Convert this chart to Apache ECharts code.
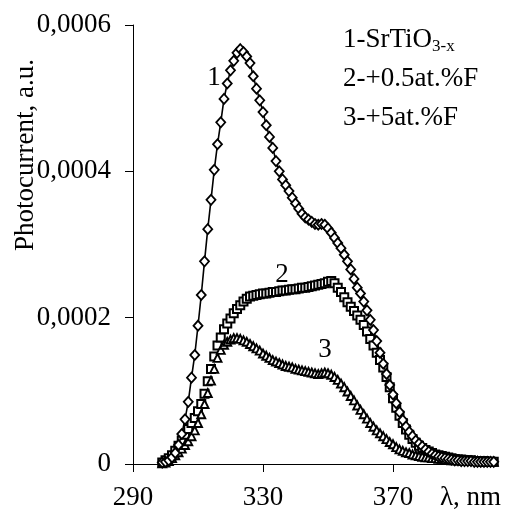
<!DOCTYPE html>
<html>
<head>
<meta charset="utf-8">
<script src="https://cdn.jsdelivr.net/npm/echarts@6/dist/echarts.min.js"></script>
<style>
html,body{margin:0;padding:0;background:#fff;}
#chart{width:513px;height:520px;}
</style>
</head>
<body>
<div id="chart"></div>
<script>
// wavelength, nm
const wavelength = [299,300,301,302,303,304,305,306,307,308,309,310,311,312,313,314,315,316,317,318,319,320,321,322,323,324,325,326,327,328,329,330,331,332,333,334,335,336,337,338,339,340,341,342,343,344,345,346,347,348,349,350,351,352,353,354,355,356,357,358,359,360,361,362,363,364,365,366,367,368,369,370,371,372,373,374,375,376,377,378,379,380,381,382,383,384,385,386,387,388,389,390,391,392,393,394,395,396,397,398,399,400,401];

// 1 - SrTiO3-x
const curve1 = [0.000002,0.000003,0.000005,0.000009,0.000015,0.000026,0.000041,0.000061,0.000085,0.000118,0.000149,0.000189,0.000231,0.000277,0.000321,0.000361,0.000402,0.000437,0.000467,0.000499,0.000520,0.000538,0.000551,0.000562,0.000567,0.000563,0.000557,0.000548,0.000530,0.000513,0.000497,0.000481,0.000463,0.000447,0.000432,0.000414,0.000400,0.000389,0.000381,0.000373,0.000364,0.000356,0.000349,0.000342,0.000337,0.000334,0.000331,0.000328,0.000327,0.000328,0.000327,0.000322,0.000316,0.000309,0.000302,0.000295,0.000286,0.000277,0.000266,0.000253,0.000241,0.000233,0.000222,0.000210,0.000197,0.000183,0.000168,0.000152,0.000137,0.000123,0.000108,0.000095,0.000083,0.000071,0.000060,0.000051,0.000044,0.000038,0.000032,0.000028,0.000024,0.000020,0.000017,0.000014,0.000012,0.000010,0.000009,0.000008,0.000007,0.000006,0.000005,0.000005,0.000004,0.000004,0.000004,0.000004,0.000003,0.000003,0.000003,0.000003,0.000003,0.000003,0.000003];

// 2 - +0.5 at.% F
const curve2 = [0.000002,0.000005,0.000008,0.000012,0.000018,0.000025,0.000032,0.000040,0.000048,0.000056,0.000063,0.000072,0.000082,0.000096,0.000113,0.000130,0.000147,0.000162,0.000173,0.000184,0.000192,0.000199,0.000206,0.000212,0.000217,0.000222,0.000226,0.000229,0.000230,0.000231,0.000232,0.000233,0.000233,0.000234,0.000235,0.000235,0.000236,0.000237,0.000237,0.000238,0.000239,0.000239,0.000240,0.000241,0.000241,0.000242,0.000243,0.000244,0.000245,0.000246,0.000247,0.000249,0.000250,0.000247,0.000241,0.000235,0.000228,0.000221,0.000215,0.000209,0.000203,0.000197,0.000190,0.000181,0.000171,0.000162,0.000152,0.000142,0.000132,0.000119,0.000105,0.000090,0.000077,0.000066,0.000056,0.000047,0.000040,0.000034,0.000029,0.000025,0.000022,0.000019,0.000017,0.000015,0.000013,0.000012,0.000011,0.000010,0.000009,0.000008,0.000007,0.000006,0.000006,0.000005,0.000005,0.000005,0.000004,0.000004,0.000004,0.000004,0.000003,0.000003,0.000003];

// 3 - +5 at.% F
const curve3 = [0.000001,0.000002,0.000004,0.000008,0.000012,0.000016,0.000021,0.000026,0.000031,0.000038,0.000046,0.000056,0.000068,0.000082,0.000097,0.000114,0.000130,0.000145,0.000156,0.000163,0.000167,0.000170,0.000172,0.000172,0.000171,0.000169,0.000167,0.000164,0.000161,0.000158,0.000155,0.000151,0.000148,0.000145,0.000142,0.000140,0.000138,0.000136,0.000134,0.000133,0.000132,0.000130,0.000129,0.000128,0.000127,0.000126,0.000125,0.000124,0.000123,0.000124,0.000125,0.000124,0.000122,0.000119,0.000115,0.000110,0.000105,0.000099,0.000093,0.000087,0.000080,0.000074,0.000068,0.000062,0.000056,0.000051,0.000046,0.000042,0.000038,0.000034,0.000030,0.000027,0.000023,0.000020,0.000018,0.000016,0.000015,0.000013,0.000012,0.000011,0.000010,0.000009,0.000009,0.000008,0.000008,0.000007,0.000007,0.000006,0.000006,0.000005,0.000005,0.000005,0.000005,0.000004,0.000004,0.000004,0.000004,0.000004,0.000003,0.000003,0.000003,0.000003,0.000003];

const xTicks = [290, 330, 370];
const yTicks = [0, 0.0002, 0.0004, 0.0006];
const seriesNames = ['1-SrTiO3-x', '2-+0.5at.%F', '3-+5at.%F'];

const FONT = 'Liberation Serif, Times New Roman, serif';
const FS = 27;

const toPairs = (arr) => wavelength.map((w, i) => [w, arr[i]]);

const chart = echarts.init(document.getElementById('chart'), null, {renderer: 'canvas'});

const option = {
  animation: false,
  backgroundColor: '#fff',
  grid: {left: 133, top: 25, width: 364, height: 439, containLabel: false},
  xAxis: {
    type: 'value',
    min: 290,
    max: 402,
    axisLine: {show: true, onZero: false, lineStyle: {color: '#000', width: 1}},
    axisTick: {show: true, length: 8, inside: false, customValues: xTicks, lineStyle: {color: '#000', width: 1}},
    axisLabel: {show: true, customValues: xTicks, margin: 20, color: '#000', fontFamily: FONT, fontSize: FS, showMinLabel: true, showMaxLabel: true},
    splitLine: {show: false}
  },
  yAxis: {
    type: 'value',
    min: 0,
    max: 0.0006,
    interval: 0.0002,
    axisLine: {show: true, onZero: false, lineStyle: {color: '#000', width: 1}},
    axisTick: {show: true, length: 8, inside: false, lineStyle: {color: '#000', width: 1}},
    axisLabel: {
      margin: 22, color: '#000', fontFamily: FONT, fontSize: FS,
      formatter: function (v) { return v === 0 ? '0' : v.toFixed(4).replace('.', ','); }
    },
    splitLine: {show: false}
  },
  series: [
    {
      name: seriesNames[0], type: 'line', data: toPairs(curve1),
      symbol: 'diamond', symbolSize: [9, 10], showAllSymbol: true,
      lineStyle: {color: '#000', width: 1.6},
      itemStyle: {color: '#fff', borderColor: '#000', borderWidth: 1.8},
      z: 4, clip: false
    },
    {
      name: seriesNames[1], type: 'line', data: toPairs(curve2),
      symbol: 'rect', symbolSize: 8, showAllSymbol: true,
      lineStyle: {opacity: 0},
      itemStyle: {color: '#fff', borderColor: '#000', borderWidth: 2},
      z: 3, clip: false
    },
    {
      name: seriesNames[2], type: 'line', data: toPairs(curve3),
      symbol: 'triangle', symbolSize: 8, showAllSymbol: true,
      lineStyle: {opacity: 0},
      itemStyle: {color: '#fff', borderColor: '#000', borderWidth: 1.9},
      z: 3, clip: false
    }
  ],
  graphic: [
    {type: 'text', x: 26, y: 155, rotation: Math.PI / 2,
     style: {text: 'Photocurrent, a.u.', fill: '#000', font: FS + 'px ' + FONT, textAlign: 'center', textVerticalAlign: 'middle'}},
    {type: 'text', x: 440, y: 498,
     style: {text: 'λ, nm', fill: '#000', font: FS + 'px ' + FONT, textAlign: 'left', textVerticalAlign: 'middle'}},
    {type: 'text', x: 343, y: 25,
     style: {text: '{a|1-SrTiO}{s|3-x}', fill: '#000', textAlign: 'left', textVerticalAlign: 'top',
       rich: {a: {fontSize: FS, fontFamily: FONT, lineHeight: 30, fill: '#000'},
              s: {fontSize: 17, fontFamily: FONT, lineHeight: 12, verticalAlign: 'bottom', fill: '#000'}}}},
    {type: 'text', x: 343, y: 79,
     style: {text: '2-+0.5at.%F', fill: '#000', font: FS + 'px ' + FONT, textAlign: 'left', textVerticalAlign: 'middle'}},
    {type: 'text', x: 343, y: 118,
     style: {text: '3-+5at.%F', fill: '#000', font: FS + 'px ' + FONT, textAlign: 'left', textVerticalAlign: 'middle'}},
    {type: 'text', x: 214, y: 78,
     style: {text: '1', fill: '#000', font: FS + 'px ' + FONT, textAlign: 'center', textVerticalAlign: 'middle'}},
    {type: 'text', x: 282, y: 275,
     style: {text: '2', fill: '#000', font: FS + 'px ' + FONT, textAlign: 'center', textVerticalAlign: 'middle'}},
    {type: 'text', x: 325, y: 350,
     style: {text: '3', fill: '#000', font: FS + 'px ' + FONT, textAlign: 'center', textVerticalAlign: 'middle'}}
  ]
};
chart.setOption(option);
</script>
</body>
</html>
